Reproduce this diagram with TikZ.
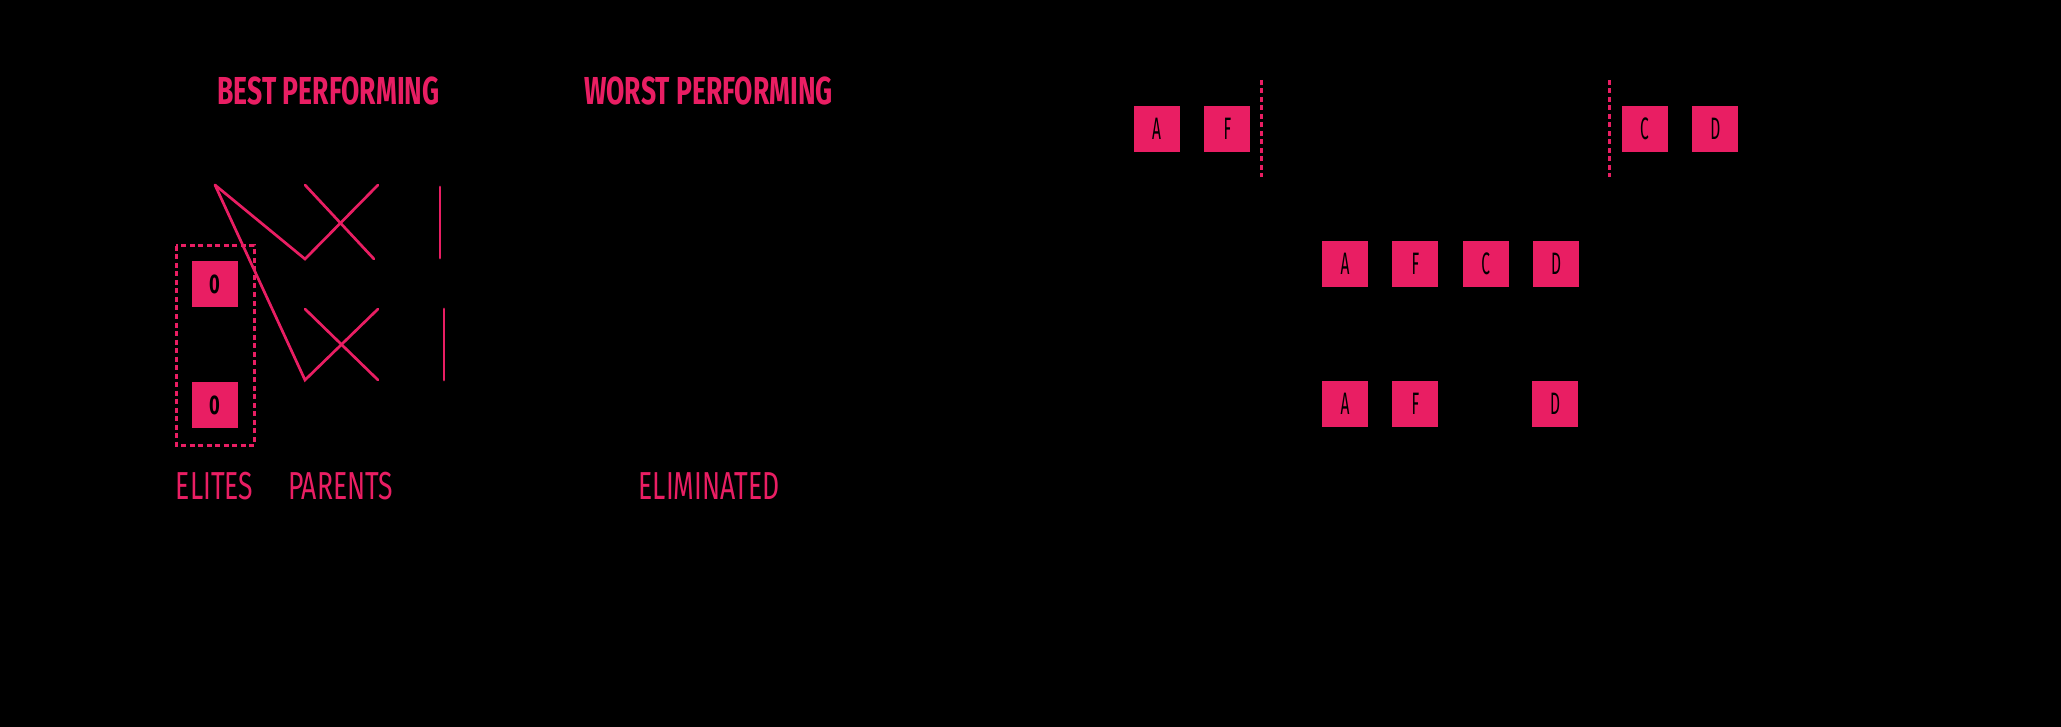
\documentclass[tikz,border=0pt]{standalone}
\usepackage{fontspec}
\usepackage{xcolor}
\usetikzlibrary{positioning}
\definecolor{gaPink}{RGB}{233,30,99}
\newfontfamily\labelfont[FakeStretch=0.68]{Fira Sans}
\newfontfamily\genefont[FakeStretch=0.5]{Fira Sans}

\begin{document}
\begin{tikzpicture}[x=1pt,y=-1pt,
    gene/.style={rectangle, fill=gaPink, minimum width=46pt, minimum height=46pt,
      inner sep=0pt, text=black, font=\genefont\fontsize{31}{31}\selectfont},
    elite/.style={gene, font=\labelfont\bfseries\fontsize{27}{27}\selectfont},
    title/.style={inner sep=0pt, text=gaPink, font=\labelfont\bfseries\fontsize{39}{39}\selectfont},
    tag/.style={inner sep=0pt, text=gaPink, font=\labelfont\fontsize{39}{39}\selectfont},
    link/.style={gaPink, line width=2.7pt, line cap=round},
    cut/.style={gaPink, line width=3pt, dash pattern=on 5pt off 3.5pt}]
        % --- background ---
        \fill[black] (0,0) rectangle (2061,727);
        \useasboundingbox (0,0) rectangle (2061,727);
        % --- LEFT: selection ---
        \node[title] (best) at (328.5,91) {BEST PERFORMING};
        \node[title] (worst) at (708.5,91) {WORST PERFORMING};
        % Elites
        \node[elite] (e1) at (214.5,284) {0};
        \node[elite] (e2) at (214.5,405) {0};
        \draw[cut] (176,246) rectangle (254,445);
        % Parent links
        \coordinate (p1) at (215,185);
        \coordinate (p2) at (305,185);
        \coordinate (p3) at (378,185);
        \coordinate (q1) at (305,259);
        \coordinate (q2) at (374,259);
        \coordinate (r1) at (305,309);
        \coordinate (r2) at (378,309);
        \coordinate (s1) at (305,380);
        \coordinate (s2) at (378,380);
        \draw[link] (p1) -- (q1) -- (p3);
        \draw[link] (p1) -- (s1) -- (r2);
        \draw[link] (p2) -- (q2);
        \draw[link] (r1) -- (s2);
        % Mutation
        \coordinate (m1) at (440,187);
        \coordinate (m2) at (440,258);
        \coordinate (m3) at (444,309);
        \coordinate (m4) at (444,380);
        \draw[link] (m1) -- (m2);
        \draw[link] (m3) -- (m4);
        % Captions
        \node[tag] (elites) at (214.5,486.5) {ELITES};
        \node[tag] (parents) at (340.5,486.5) {PARENTS};
        \node[tag] (gone) at (709,486.5) {ELIMINATED};
        % --- RIGHT: crossover ---
        \node[gene] (a1) at (1156.5,129) {A};
        \node[gene, right=24.5pt of a1] (f1) {F};
        \node[gene] (c1) at (1644.5,129) {C};
        \node[gene, right=24.5pt of c1] (d1) {D};
        \coordinate (cutA) at (1261,80);
        \coordinate (cutB) at (1261,177);
        \coordinate (cutC) at (1609.5,80);
        \coordinate (cutD) at (1609.5,177);
        \draw[cut] (cutA) -- (cutB);
        \draw[cut] (cutC) -- (cutD);
        % Child
        \node[gene] (a2) at (1345,264) {A};
        \node[gene, right=24pt of a2] (f2) {F};
        \node[gene, right=24pt of f2] (c2) {C};
        \node[gene, right=24pt of c2] (d2) {D};
        % Mutated child
        \node[gene] (a3) at (1345,404) {A};
        \node[gene, right=24pt of a3] (f3) {F};
        \node[gene] (d3) at (1555,404) {D};
\end{tikzpicture}
\end{document}
